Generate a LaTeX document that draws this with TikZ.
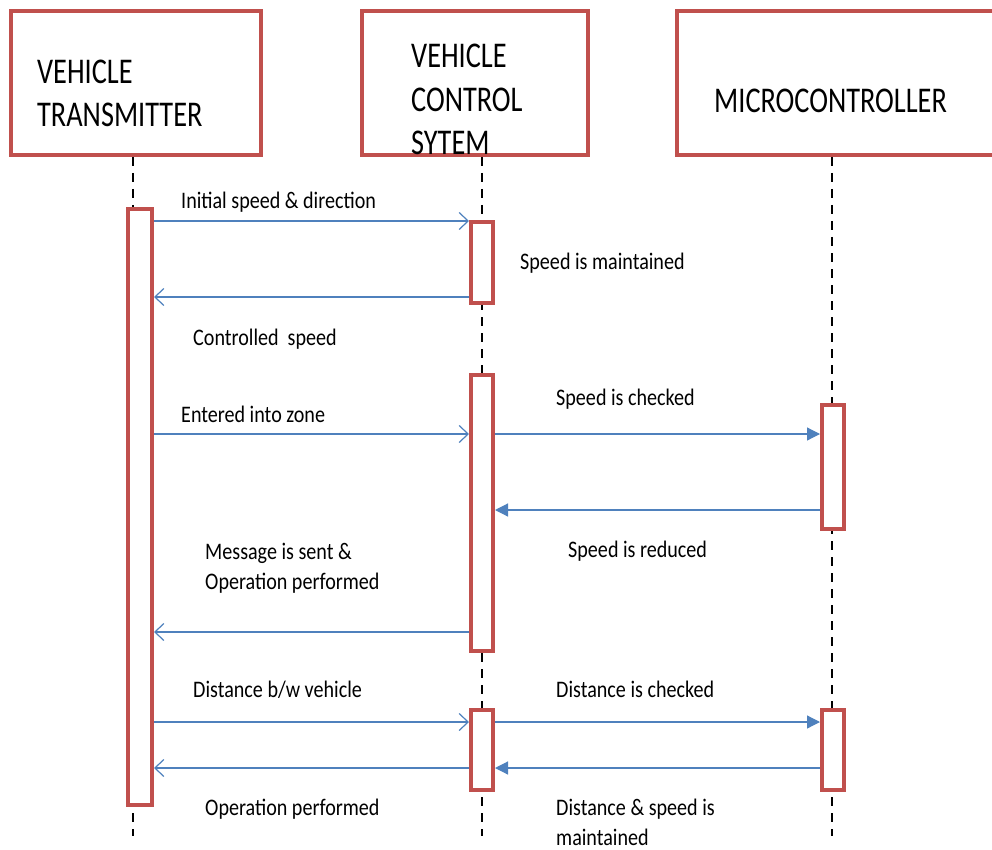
\documentclass[tikz,border=0pt]{standalone}
\usepackage{fontspec}
\setmainfont{Carlito}
\usetikzlibrary{arrows.meta}
\definecolor{boxred}{HTML}{C0504D}
\definecolor{msgblue}{HTML}{4F81BD}
\newcommand{\hdtxt}[1]{\scalebox{1}[1.28]{#1}}
\newcommand{\lbtxt}[1]{\scalebox{1}[1.18]{#1}}
\begin{document}
\begin{tikzpicture}[x=1pt,y=1pt,
  hdbox/.style={draw=boxred,line width=4.5pt,fill=white,rectangle,inner sep=0pt,outer sep=2pt},
  actbox/.style={draw=boxred,line width=4pt,fill=white,rectangle,inner sep=0pt,outer sep=2pt,minimum width=22pt},
  life/.style={draw=black,line width=1.3pt,dash pattern=on 9pt off 7pt},
  msgopen/.style={draw=msgblue,line width=1.2pt,-{Straight Barb[length=9pt,width=17pt,line width=1.2pt]}},
  msgfill/.style={draw=msgblue,line width=1.2pt,-{Triangle[length=13pt,width=13pt]}},
  hdlabel/.style={anchor=west,inner sep=0pt,font=\fontsize{28.3}{30}\selectfont},
  lbl/.style={anchor=west,inner sep=0pt,yshift=-1.5pt,font=\fontsize{20.1}{24}\selectfont}]
\useasboundingbox (0,0) rectangle (992,-850);
% header boxes
\node[hdbox,minimum width=250pt,minimum height=144pt] (h1) at (136,-83) {};
\node[hdbox,minimum width=226pt,minimum height=144pt] (h2) at (475,-83) {};
\node[hdbox,minimum width=320pt,minimum height=144pt] (h3) at (837,-83) {};
% lifeline end points
\coordinate (e1) at (133,-836);
\coordinate (e2) at (482,-836);
\coordinate (e3) at (832,-836);
\draw[life] (h1.south -| e1) -- (e1);
\draw[life] (h2.south -| e2) -- (e2);
\draw[life] (h3.south -| e3) -- (e3);
% header texts
\node[hdlabel] (t1a) at (37,-72) {\hdtxt{VEHICLE}};
\node[hdlabel] (t1b) at (37,-115) {\hdtxt{TRANSMITTER}};
\node[hdlabel] (t2a) at (411,-56) {\hdtxt{VEHICLE}};
\node[hdlabel] (t2b) at (411,-100) {\hdtxt{CONTROL}};
\node[hdlabel] (t2c) at (411,-143) {\hdtxt{SYTEM}};
\node[hdlabel] (t3a) at (714,-101) {\hdtxt{MICROCONTROLLER}};
% activation boxes
\node[actbox,minimum width=24pt,minimum height=596pt] (a1) at (140,-507) {};
\node[actbox,minimum height=81pt] (a2) at (482,-262.5) {};
\node[actbox,minimum height=276pt] (a3) at (482,-513) {};
\node[actbox,minimum height=124pt] (a4) at (833,-467) {};
\node[actbox,minimum height=80pt] (a5) at (482,-750) {};
\node[actbox,minimum height=80pt] (a6) at (833,-750) {};
% message levels
\coordinate (y1) at (0,-221);
\coordinate (y2) at (0,-297);
\coordinate (y3) at (0,-434);
\coordinate (y4) at (0,-510);
\coordinate (y5) at (0,-632);
\coordinate (y6) at (0,-722);
\coordinate (y7) at (0,-768);
% messages
\draw[msgopen] (a1.east |- y1) -- (a2.west |- y1);
\draw[msgopen] (a2.west |- y2) -- (a1.east |- y2);
\draw[msgopen] (a1.east |- y3) -- (a3.west |- y3);
\draw[msgfill] (a3.east |- y3) -- (a4.west |- y3);
\draw[msgfill] (a4.west |- y4) -- (a3.east |- y4);
\draw[msgopen] (a3.west |- y5) -- (a1.east |- y5);
\draw[msgopen] (a1.east |- y6) -- (a5.west |- y6);
\draw[msgfill] (a5.east |- y6) -- (a6.west |- y6);
\draw[msgopen] (a5.west |- y7) -- (a1.east |- y7);
\draw[msgfill] (a6.west |- y7) -- (a5.east |- y7);
% labels
\node[lbl] (l1) at (181,-201) {\lbtxt{Initial speed \& direction}};
\node[lbl] (l2) at (520,-262) {\lbtxt{Speed is maintained}};
\node[lbl] (l3) at (193,-338) {\lbtxt{Controlled\ \ speed}};
\node[lbl] (l4) at (181,-413) {\lbtxt{Entered into zone}};
\node[lbl] (l5) at (556,-398) {\lbtxt{Speed is checked}};
\node[lbl] (l6) at (568,-550) {\lbtxt{Speed is reduced}};
\node[lbl] (l7a) at (205,-552) {\lbtxt{Message is sent \&}};
\node[lbl] (l7b) at (205,-582) {\lbtxt{Operation performed}};
\node[lbl] (l8) at (193,-688) {\lbtxt{Distance b/w vehicle}};
\node[lbl] (l9) at (556,-688) {\lbtxt{Distance is checked}};
\node[lbl] (l10) at (205,-808) {\lbtxt{Operation performed}};
\node[lbl] (l11a) at (556,-808) {\lbtxt{Distance \& speed is}};
\node[lbl] (l11b) at (556,-835.5) {\lbtxt{maintained}};
\end{tikzpicture}
\end{document}
